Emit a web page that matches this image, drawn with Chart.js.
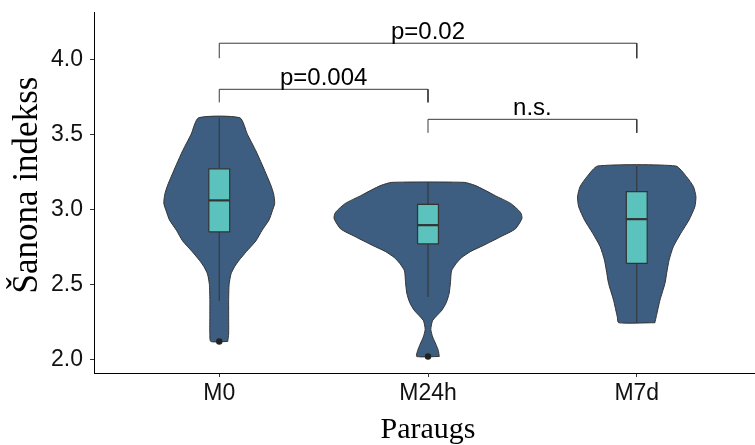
<!DOCTYPE html>
<html>
<head>
<meta charset="utf-8">
<script src="https://cdn.jsdelivr.net/npm/chart.js@4.4.1/dist/chart.umd.min.js"></script>
<style>
  html, body { margin: 0; padding: 0; background: #ffffff; overflow: hidden; width: 755px; height: 445px; }
  #wrap { position: relative; width: 766px; height: 445px; }
</style>
</head>
<body>
<div id="wrap"><canvas id="chart" width="766" height="445"></canvas></div>
<script>
// Groups on the x axis and y tick values
const categories = ['M0', 'M24h', 'M7d'];
const yTickValues = [2.0, 2.5, 3.0, 3.5, 4.0];
const yAxisTitle = 'Šanona indekss';
const xAxisTitle = 'Paraugs';

// Violin outlines: value levels and relative density (1 = widest point of all violins)
const m0Levels  = [2.12, 2.17, 2.30, 2.40, 2.50, 2.57, 2.62, 2.66, 2.72, 2.79, 2.86, 2.93, 2.99, 3.04, 3.10, 3.16, 3.22, 3.30, 3.39, 3.50, 3.61];
const m0Density = [0.09, 0.10, 0.10, 0.10, 0.105, 0.125, 0.165, 0.21, 0.29, 0.39, 0.455, 0.53, 0.565, 0.59, 0.58, 0.55, 0.51, 0.455, 0.39, 0.30, 0.22];

const m24Levels  = [2.02, 2.06, 2.10, 2.15, 2.20, 2.26, 2.33, 2.38, 2.44, 2.52, 2.59, 2.64, 2.68, 2.72, 2.76, 2.82, 2.87, 2.94, 2.98, 3.04, 3.09, 3.13, 3.16, 3.18];
const m24Density = [0.12, 0.11, 0.085, 0.05, 0.03, 0.05, 0.15, 0.195, 0.225, 0.24, 0.25, 0.30, 0.36, 0.455, 0.59, 0.78, 0.93, 1.0, 0.985, 0.88, 0.72, 0.60, 0.50, 0.385];

const m7Levels  = [2.245, 2.284, 2.395, 2.507, 2.58, 2.662, 2.751, 2.84, 2.929, 3.017, 3.084, 3.151, 3.218, 3.289];
const m7Density = [0.193, 0.207, 0.247, 0.30, 0.32, 0.344, 0.389, 0.468, 0.556, 0.618, 0.63, 0.604, 0.53, 0.416];

// Box plot statistics per group
const q1Values      = [2.85, 2.77, 2.64];
const medianValues  = [3.06, 2.895, 2.935];
const q3Values      = [3.27, 3.033, 3.118];
const whiskerLow    = [2.39, 2.417, 2.245];
const whiskerHigh   = [3.61, 3.18, 3.289];
const outlierGroups = [1, 2];
const outlierValues = [2.12, 2.02];

// Significance brackets
const bracketFrom   = [1, 1, 2];
const bracketTo     = [3, 2, 3];
const bracketLine   = [4.107, 3.80, 3.60];
const bracketTip    = [4.007, 3.713, 3.51];
const bracketLabels = ['p=0.02', 'p=0.004', 'n.s.'];

// Drawing constants
const VIOLIN_HALF = 0.45;   // half of the violin width at density 1, in group units
const BOX_HALF = 0.05;      // half of the box width, in group units
const VIOLIN_FILL = '#3d5e80';
const BOX_FILL = '#5bc2be';
const EDGE = '#333333';
const SANS = '"Liberation Sans", Arial, sans-serif';
const SERIF = '"Liberation Serif", "Times New Roman", serif';

function violinOutline(center, levels, density) {
  const right = levels.map((v, i) => ({ x: center + VIOLIN_HALF * density[i], y: v }));
  const left = levels.map((v, i) => ({ x: center - VIOLIN_HALF * density[i], y: v })).reverse();
  const pts = right.concat(left);
  pts.push({ x: pts[0].x, y: pts[0].y });
  return pts;
}

function boxOutline(center, lo, hi) {
  return [
    { x: center - BOX_HALF, y: lo }, { x: center + BOX_HALF, y: lo },
    { x: center + BOX_HALF, y: hi }, { x: center - BOX_HALF, y: hi },
    { x: center - BOX_HALF, y: lo }
  ];
}

const violins = [
  [m0Levels, m0Density],
  [m24Levels, m24Density],
  [m7Levels, m7Density]
];

const datasets = [];

violins.forEach(([lv, dn], i) => {
  datasets.push({
    data: violinOutline(i + 1, lv, dn),
    showLine: true, fill: 'shape', tension: 0.2,
    backgroundColor: VIOLIN_FILL, borderColor: EDGE, borderWidth: 1,
    pointRadius: 0, order: 6
  });
});

categories.forEach((_, i) => {
  datasets.push({
    data: [{ x: i + 1, y: whiskerLow[i] }, { x: i + 1, y: whiskerHigh[i] }],
    showLine: true, fill: false, borderColor: EDGE, borderWidth: 1,
    pointRadius: 0, order: 5
  });
  datasets.push({
    data: boxOutline(i + 1, q1Values[i], q3Values[i]),
    showLine: true, fill: 'shape', tension: 0,
    backgroundColor: BOX_FILL, borderColor: EDGE, borderWidth: 1.2,
    pointRadius: 0, order: 4
  });
  datasets.push({
    data: [{ x: i + 1 - BOX_HALF, y: medianValues[i] }, { x: i + 1 + BOX_HALF, y: medianValues[i] }],
    showLine: true, fill: false, borderColor: EDGE, borderWidth: 2.2,
    pointRadius: 0, order: 3
  });
});

datasets.push({
  data: outlierGroups.map((g, i) => ({ x: g, y: outlierValues[i] })),
  showLine: false, pointRadius: 3.2, pointBackgroundColor: '#222222',
  pointBorderWidth: 0, order: 2
});

bracketLabels.forEach((_, i) => {
  datasets.push({
    data: [
      { x: bracketFrom[i], y: bracketTip[i] }, { x: bracketFrom[i], y: bracketLine[i] },
      { x: bracketTo[i], y: bracketLine[i] }, { x: bracketTo[i], y: bracketTip[i] }
    ],
    showLine: true, fill: false, borderColor: '#3a3a3a', borderWidth: 1,
    pointRadius: 0, order: 1
  });
});

// Writes the p-value labels above each bracket and the rotated y axis title
const annotations = {
  id: 'annotations',
  afterDatasetsDraw(chart) {
    const { ctx, scales: { x, y } } = chart;
    ctx.save();
    ctx.font = '24px ' + SANS;
    ctx.fillStyle = '#000000';
    ctx.textAlign = 'center';
    ctx.textBaseline = 'alphabetic';
    bracketLabels.forEach((t, i) => {
      const px = x.getPixelForValue((bracketFrom[i] + bracketTo[i]) / 2);
      const py = y.getPixelForValue(bracketLine[i]) - 4.5;
      ctx.fillText(t, px, py);
    });
    ctx.restore();
  },
  afterDraw(chart) {
    const { ctx } = chart;
    ctx.save();
    ctx.font = '35px ' + SERIF;
    ctx.fillStyle = '#000000';
    ctx.textAlign = 'center';
    ctx.textBaseline = 'alphabetic';
    ctx.translate(36.5, 185);
    ctx.rotate(-Math.PI / 2);
    ctx.fillText(yAxisTitle, 0, 0);
    ctx.restore();
  }
};

new Chart(document.getElementById('chart'), {
  type: 'scatter',
  data: { datasets },
  plugins: [annotations],
  options: {
    responsive: false,
    animation: false,
    devicePixelRatio: 1,
    layout: { padding: { top: 12, left: 0, right: 0, bottom: 0 } },
    plugins: { legend: { display: false }, tooltip: { enabled: false } },
    scales: {
      x: {
        type: 'linear', min: 0.4, max: 3.6,
        afterBuildTicks: s => { s.ticks = categories.map((_, i) => ({ value: i + 1 })); },
        afterFit: s => { s.height = 72; s.paddingLeft = 0; s.paddingRight = 0; },
        ticks: {
          callback: v => categories[Math.round(v) - 1] || '',
          autoSkip: false, maxRotation: 0, padding: 3,
          color: '#111111', font: { family: SANS, size: 23 }
        },
        grid: { drawOnChartArea: false, drawTicks: true, tickLength: 4, color: EDGE, lineWidth: 1 },
        border: { display: true, color: '#000000', width: 1 },
        title: {
          display: true, text: xAxisTitle, color: '#000000',
          font: { family: SERIF, size: 30, lineHeight: 1.0 }, padding: 0
        }
      },
      y: {
        type: 'linear', min: 1.91, max: 4.315,
        afterBuildTicks: s => { s.ticks = yTickValues.map(v => ({ value: v })); },
        afterFit: s => { s.width = 94; s.paddingTop = 0; s.paddingBottom = 0; },
        ticks: {
          callback: v => Number(v).toFixed(1), padding: 7,
          color: '#111111', font: { family: SANS, size: 23 }
        },
        grid: { drawOnChartArea: false, drawTicks: true, tickLength: 4, color: EDGE, lineWidth: 1 },
        border: { display: true, color: '#000000', width: 1 }
      }
    }
  }
});
</script>
</body>
</html>
